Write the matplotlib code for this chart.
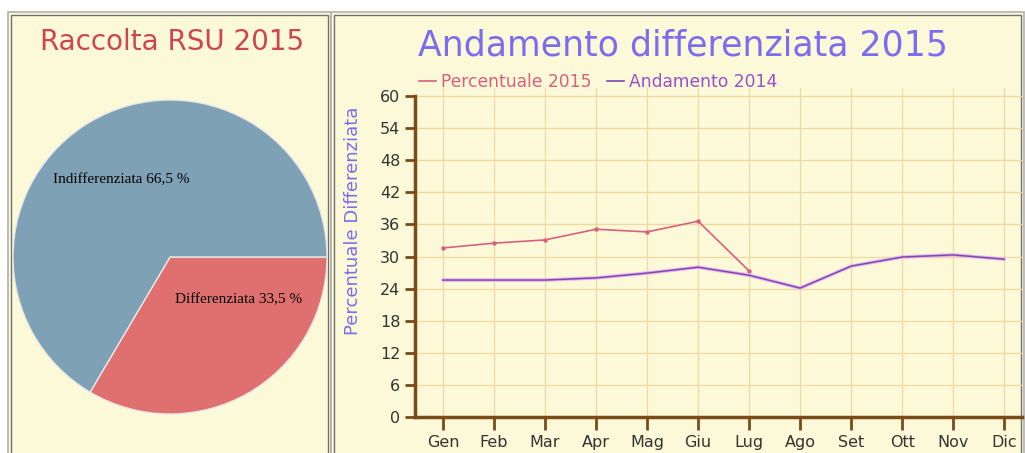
import matplotlib
matplotlib.use("Agg")
import matplotlib.pyplot as plt
import matplotlib.patheffects as pe
from matplotlib.patches import Rectangle

# --- dati ---
pie_labels = ["Differenziata 33,5 %", "Indifferenziata 66,5 %"]
pie_values = [33.5, 66.5]
pie_colors = ["#e07070", "#7fa1b5"]

mesi = ["Gen", "Feb", "Mar", "Apr", "Mag", "Giu", "Lug", "Ago", "Set", "Ott", "Nov", "Dic"]
perc_2015 = [31.6, 32.5, 33.1, 35.1, 34.6, 36.6, 27.3]
and_2014 = [25.6, 25.6, 25.6, 26.0, 26.9, 28.0, 26.5, 24.1, 28.2, 29.9, 30.3, 29.5]
y_ticks = [0, 6, 12, 18, 24, 30, 36, 42, 48, 54, 60]

W, H = 1025, 453
BG = "#fcf9d8"
BROWN = "#7a4a18"
GRID = "#f0d9a0"
VIOLA = "#7b6cf0"

fig = plt.figure(figsize=(W / 100, H / 100), dpi=100)
fig.patch.set_facecolor("white")


def panel(x0, y0, x1, y1):
    # doppio bordo + sfondo crema, coordinate in pixel (y dall'alto)
    fig.add_artist(Rectangle((x0 / W, 1 - y1 / H), (x1 - x0) / W, (y1 - y0) / H,
                             transform=fig.transFigure, facecolor=BG,
                             edgecolor="#b0b0b0", lw=1.2, zorder=0))
    fig.add_artist(Rectangle(((x0 + 3) / W, 1 - (y1 + 3) / H), (x1 - x0 - 6) / W, (y1 - y0) / H,
                             transform=fig.transFigure, facecolor="none",
                             edgecolor="#707070", lw=1.0, zorder=0))


panel(8, 12, 331, 460)
panel(331, 12, 1024, 460)

# --- torta ---
ax_pie = fig.add_axes([13 / W, 1 - 414 / H, 314 / W, 314 / H])
ax_pie.pie(pie_values, colors=pie_colors, startangle=0, counterclock=False,
           wedgeprops=dict(edgecolor="#e8e8e8", linewidth=1))
ax_pie.set_xlim(-1, 1)
ax_pie.set_ylim(-1, 1)
ax_pie.set_aspect("equal")
ax_pie.text(0.03, -0.27, pie_labels[0], fontsize=11, family="Liberation Serif",
            color="black", va="center")
ax_pie.text(-0.745, 0.49, pie_labels[1], fontsize=11, family="Liberation Serif",
            color="black", va="center")
fig.text(172 / W, 1 - 42 / H, "Raccolta RSU 2015", ha="center", va="center",
         fontsize=20, color="#d04452")

# --- linee ---
ax = fig.add_axes([415 / W, 1 - 417 / H, 607 / W, (417 - 88) / H])
ax.set_facecolor("none")
x = list(range(len(mesi)))
ax.plot(x[:len(perc_2015)], perc_2015, color="#d8607e", lw=1.2, marker="o", ms=2.2,
        label="Percentuale 2015", zorder=3)
ax.plot(x, and_2014, color="#8048b0", lw=1.1, label="Andamento 2014", zorder=3,
        path_effects=[pe.Stroke(linewidth=2.6, foreground="#e6b4f0"), pe.Normal()])

ax.set_xlim(-0.55, 11.35)
ax.set_ylim(0, 61.5)
ax.set_yticks(y_ticks)
ax.set_xticks(x)
ax.set_xticklabels(mesi)
ax.grid(True, color=GRID, lw=0.9)
ax.set_axisbelow(True)
for s in ["top", "right"]:
    ax.spines[s].set_visible(False)
for s in ["left", "bottom"]:
    ax.spines[s].set_color(BROWN)
    ax.spines[s].set_linewidth(2.5)
ax.spines["left"].set_bounds(0, 60)
ax.tick_params(axis="both", colors=BROWN, width=2, length=7, labelsize=11.5,
               labelcolor="#333333")
ax.tick_params(axis="x", length=9, pad=4)
ax.set_ylabel("Percentuale Differenziata", fontsize=13, color=VIOLA)
ax.yaxis.set_label_coords(-0.087, 0.596)

leg = ax.legend(loc="lower left", bbox_to_anchor=(-0.005, 0.97), ncol=2, frameon=False,
                fontsize=12.3, handlelength=1.0, handletextpad=0.3, columnspacing=0.9,
                borderaxespad=0)
for t, c in zip(leg.get_texts(), ["#d8607e", "#9a50c8"]):
    t.set_color(c)
for h in leg.legend_handles:
    h.set_marker("")
    h.set_path_effects([])
    h.set_linewidth(1.2)

fig.text(683 / W, 1 - 45 / H, "Andamento differenziata 2015", ha="center", va="center",
         fontsize=25, color=VIOLA)

fig.savefig("out.png", dpi=100, facecolor=fig.get_facecolor())
